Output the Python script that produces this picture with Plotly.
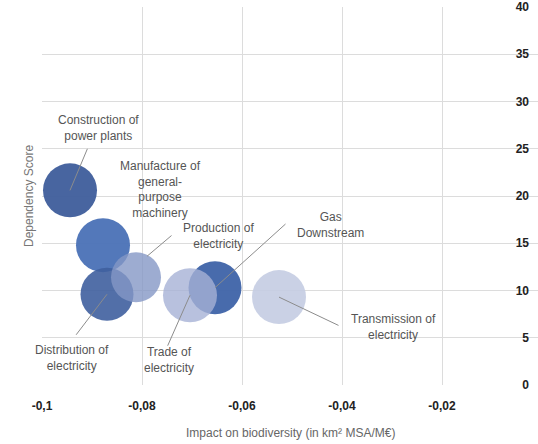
import plotly.graph_objects as go

# ---- data ----
sectors = ["Construction of power plants", "Manufacture of general-purpose machinery",
           "Distribution of electricity", "Production of electricity",
           "Gas Downstream", "Trade of electricity", "Transmission of electricity"]
labels = ["Construction of<br>power plants", "Manufacture of<br>general-<br>purpose<br>machinery",
          "Distribution of<br>electricity", "Production of<br>electricity",
          "Gas<br>Downstream", "Trade of<br>electricity", "Transmission of<br>electricity"]
impact = [-0.0944, -0.0878, -0.0870, -0.0812, -0.0654, -0.0704, -0.0526]
dependency = [20.6, 14.8, 9.6, 11.4, 10.3, 9.5, 9.3]
bubble_size = [54, 54, 53, 50, 53, 54, 54]
x_tickvals = [-0.1, -0.08, -0.06, -0.04, -0.02]
x_ticktext = ["-0,1", "-0,08", "-0,06", "-0,04", "-0,02"]
y_tickvals = [0, 5, 10, 15, 20, 25, 30, 35, 40]
y_ticktext = ["0", "5", "10", "15", "20", "25", "30", "35", "40"]

# ---- styles ----
colors = ["#3e5d9b", "#4a71b6", "#3f5f9f", "#8497c6", "#3e63a8", "#a6b2d6", "#c4cce2"]
opac = [0.95, 0.95, 0.9, 0.8, 0.95, 0.8, 0.9]
# leader line: (xshift, yshift of start, ax, ay) ; text offset (dx, dy) in px
leaders = [(0, 0, 18, -43), None, (0, 0, -32, 42), (11, 21, 26, -22),
           (0, 0, 72, -65), (0, 0, -23, 52), (0, 0, 61, 29)]
text_off = [(28, -62), (57, -56), (-35, 64), (82, -41), (115, -63), (-21, 65), (114, 30)]
FONT = "Liberation Sans, Arial"

fig = go.Figure()
for i in range(len(sectors)):
    fig.add_trace(go.Scatter(
        x=[impact[i]], y=[dependency[i]], mode="markers", name=sectors[i],
        marker=dict(size=bubble_size[i], color=colors[i], opacity=opac[i],
                    line=dict(width=0)),
        showlegend=False, hoverinfo="name"))

for i in range(len(sectors)):
    if leaders[i] is not None:
        xs, ys, ax, ay = leaders[i]
        fig.add_annotation(x=impact[i], y=dependency[i], xref="x", yref="y",
                           text="", showarrow=True, arrowhead=0, arrowwidth=1,
                           arrowcolor="#8c8c8c", ax=ax, ay=ay, standoff=0,
                           startstandoff=0, xshift=xs, yshift=ys)
    dx, dy = text_off[i]
    fig.add_annotation(x=impact[i], y=dependency[i], xref="x", yref="y",
                       text=labels[i], showarrow=False, xshift=dx, yshift=-dy,
                       xanchor="center", yanchor="middle", align="center",
                       font=dict(family=FONT, size=12, color="#555555"))

fig.add_annotation(text="Dependency Score", xref="paper", yref="paper", x=0, y=0.5,
                   xanchor="right", yanchor="middle", textangle=-90, showarrow=False,
                   xshift=-4, font=dict(family=FONT, size=12, color="#777777"))
fig.add_annotation(text="Impact on biodiversity (in km² MSA/M€)", xref="paper", yref="paper",
                   x=0.5, y=0, xanchor="center", yanchor="middle", yshift=-48, showarrow=False,
                   font=dict(family=FONT, size=12, color="#666666"))

fig.update_layout(
    width=538, height=444,
    margin=dict(l=42, r=0, t=7, b=59),
    paper_bgcolor="white", plot_bgcolor="white",
    xaxis=dict(range=[-0.1, -0.0008], tickvals=x_tickvals, ticktext=x_ticktext,
               showgrid=True, gridcolor="#dcdcdc", gridwidth=1, zeroline=False,
               showline=False, ticks="", ticklabelstandoff=12,
               tickfont=dict(family=FONT, size=12, color="#222222", weight="bold")),
    yaxis=dict(range=[0, 40], tickvals=y_tickvals, ticktext=y_ticktext, side="right",
               ticklabelposition="inside", ticklabeloverflow="allow",
               showgrid=True, gridcolor="#dcdcdc", gridwidth=1,
               zeroline=False, showline=False, ticks="", ticklabelstandoff=6,
               tickfont=dict(family=FONT, size=12, color="#222222", weight="bold")),
    hovermode="closest",
)

fig.write_html("out.html", config={"displayModeBar": False},
               post_script="document.body.style.margin='0px';document.body.style.overflow='hidden';")
